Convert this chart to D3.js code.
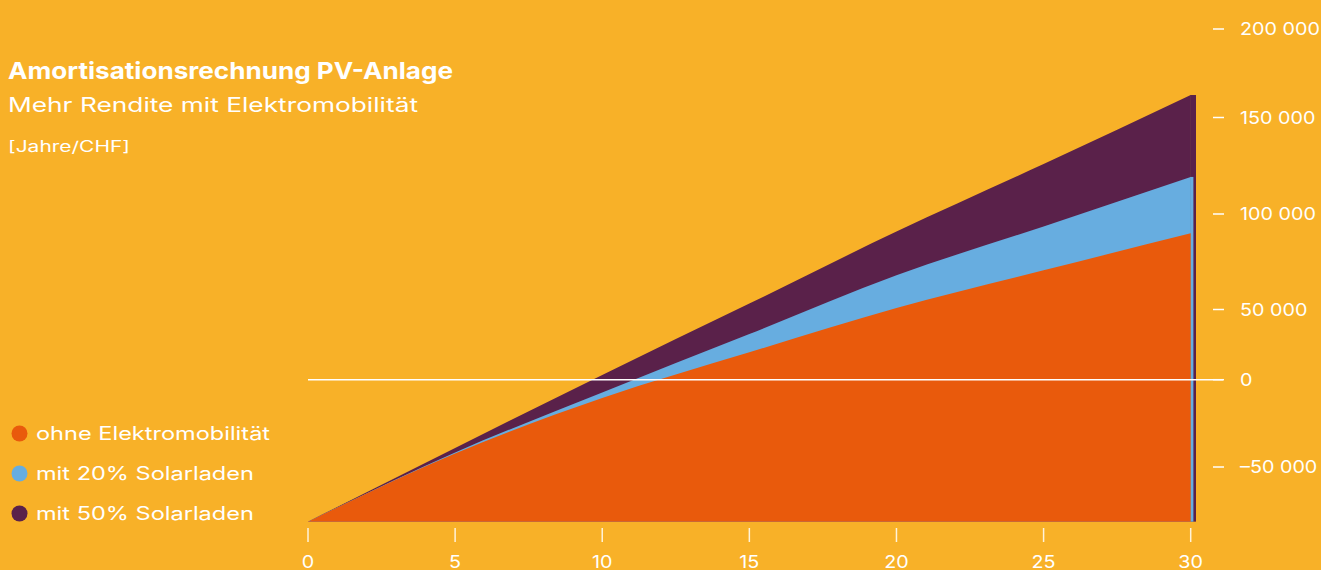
<!DOCTYPE html>
<html><head><meta charset="utf-8">
<script src="https://cdn.jsdelivr.net/npm/d3@7"></script>
<style>html,body{margin:0;padding:0;background:#F8B128;overflow:hidden}svg{display:block}text{font-family:Inter,"Open Sans",sans-serif;fill:#fff}</style>
</head><body><svg id="c" width="1321" height="570"></svg>
<script>
const years = [0, 5, 10, 15, 20, 25, 30];
const ohneElektro = [-81300, -42300, -10500, 19500, 50800, 70500, 89900];
const mit20 = [-81300, -41700, -7300, 32500, 67900, 93500, 119200];
const mit50 = [-81300, -39100, 3400, 53100, 90800, 125900, 162700];
const seriesNames = ["ohne Elektromobilität", "mit 20% Solarladen", "mit 50% Solarladen"];
const seriesColors = ["#E95A0C", "#67ADE0", "#5A214A"];
const xTicks = [0, 5, 10, 15, 20, 25, 30];
const yTicks = [-50000, 0, 50000, 100000, 150000, 200000];
const title = "Amortisationsrechnung PV-Anlage";
const subtitle = "Mehr Rendite mit Elektromobilität";
const unit = "[Jahre/CHF]";

const svg = d3.select("#c");
svg.append("rect").attr("width", 1321).attr("height", 570).attr("fill", "#F8B128");

const x = d3.scaleLinear().domain([0, 30]).range([308, 1190.7]);
const y = d3.scaleLinear().domain(yTicks).range([467, 379.7, 309.5, 214, 117.5, 29]);
const fmt = d3.formatLocale({thousands: " ", grouping: [3], decimal: ",", currency: ["", ""], minus: "–"}).format(",d");

const allSeries = [ohneElektro, mit20, mit50];
const baseVal = d3.min(allSeries, s => d3.min(s));
const base = y(baseVal);

const area = d3.area().x((d, i) => x(years[i])).y0(base).y1(d => y(d)).curve(d3.curveMonotoneX);

// layered areas: largest first; edge strips at year 30 as in the original
const stripW = [0, 2.7, 5.3];
[2, 1, 0].forEach(k => {
  const s = allSeries[k];
  svg.append("path").attr("d", area(s)).attr("fill", seriesColors[k]);
  if (stripW[k] > 0) {
    const top = y(s[s.length - 1]);
    svg.append("rect").attr("x", x(30) - 0.5).attr("width", stripW[k] + 0.5)
      .attr("y", top).attr("height", base - top).attr("fill", seriesColors[k]);
  }
});

// zero line
svg.append("line").attr("x1", x(0)).attr("x2", 1223).attr("y1", y(0)).attr("y2", y(0))
  .attr("stroke", "#fff").attr("stroke-width", 1.6);

// helper: horizontal stretch of text (original typeface is wider)
function stretched(g, px, py, str, size, sx, weight, anchor) {
  return g.append("text").attr("transform", `translate(${px},${py}) scale(${sx},1)`)
    .attr("font-size", size).attr("font-weight", weight || 400)
    .attr("text-anchor", anchor || "start").text(str);
}

// y axis (right)
const gy = svg.append("g");
yTicks.forEach(t => {
  gy.append("line").attr("x1", 1213).attr("x2", 1224).attr("y1", y(t)).attr("y2", y(t))
    .attr("stroke", "#fff").attr("stroke-width", 1.5);
  stretched(gy, 1240, y(t) + 6.3, fmt(t), 17.5, 1.13);
});

// x axis
const gx = svg.append("g");
xTicks.forEach(t => {
  gx.append("line").attr("x1", x(t)).attr("x2", x(t)).attr("y1", 528).attr("y2", 542)
    .attr("stroke", "#FFF3DA").attr("stroke-width", 1.5);
  stretched(gx, x(t), 568, String(t), 17.5, 1.13, 400, "middle");
});

// titles
stretched(svg, 8, 79.3, title, 23.4, 1, 700).attr("textLength", 445).attr("lengthAdjust", "spacingAndGlyphs");
stretched(svg, 8, 111.8, subtitle, 19.8, 1, 400).attr("textLength", 410).attr("lengthAdjust", "spacingAndGlyphs");
stretched(svg, 8, 151.7, unit, 15.2, 1, 400).attr("textLength", 122).attr("lengthAdjust", "spacingAndGlyphs");

// legend
const lg = svg.append("g");
const items = seriesNames.map((n, i) => {
  const cy = 433.5 + i * 40;
  lg.append("circle").attr("cx", 19.5).attr("cy", cy).attr("r", 8).attr("fill", seriesColors[i]);
  return lg.append("text").attr("x", 0).attr("y", 0).attr("font-size", 18.4).text(n)
    .attr("transform", `translate(36,${cy + 6.7})`);
});
const natural = items[0].node().getComputedTextLength();
const lsx = 234 / natural;
items.forEach((t, i) => t.attr("transform", `translate(36,${433.5 + i * 40 + 6.7}) scale(${lsx},1)`));
</script></body></html>
